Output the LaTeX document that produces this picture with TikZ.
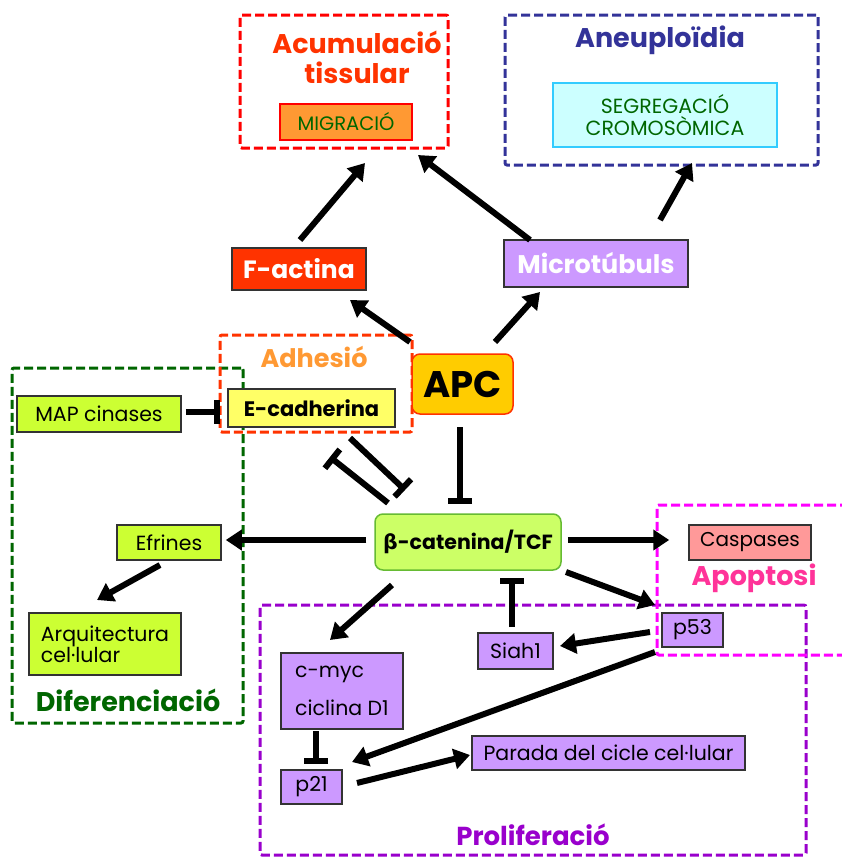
\documentclass[tikz,border=0pt]{standalone}
\usepackage{fontspec}
\setmainfont{Poppins}
\newfontfamily\greekfont{DejaVu Sans}
\usetikzlibrary{arrows.meta}
\definecolor{cRedO}{HTML}{FF3300}
\definecolor{cRed}{HTML}{FF0000}
\definecolor{cNavy}{HTML}{333399}
\definecolor{cOrange}{HTML}{FF9933}
\definecolor{cDkGreen}{HTML}{006600}
\definecolor{cCyanF}{HTML}{CCFFFF}
\definecolor{cCyanB}{HTML}{33CCFF}
\definecolor{cLav}{HTML}{CC99FF}
\definecolor{cGold}{HTML}{FFCC00}
\definecolor{cYel}{HTML}{FFFF66}
\definecolor{cLime}{HTML}{CCFF33}
\definecolor{cLime2}{HTML}{CCFF66}
\definecolor{cLimeB}{HTML}{66BB33}
\definecolor{cMag}{HTML}{FF00FF}
\definecolor{cPink}{HTML}{FF3399}
\definecolor{cSalmon}{HTML}{FF9999}
\definecolor{cPurp}{HTML}{9900CC}
\tikzset{
  grp/.style={draw=#1, line width=3pt, dash pattern=on 9pt off 4pt, inner sep=0pt, rounded corners=2pt},
  box/.style={draw=black!80, line width=1.5pt, fill=#1, inner sep=0pt, font=\fontsize{20.5}{24}\selectfont, align=center},
  title/.style={text=#1, font=\bfseries\fontsize{27}{31}\selectfont, align=center},
  act/.style={line width=6pt, -{Triangle[length=16pt,width=20pt]}},
  inh/.style={line width=6pt, -{Bar[width=24pt]}},
  inhs/.style={line width=6pt, {Bar[width=24pt]}-},
}
\begin{document}
\begin{tikzpicture}[x=1pt,y=-1pt]
\useasboundingbox (0,0) rectangle (842,857);
\fill[white] (0,0) rectangle (842,857);
% group boxes
\node[grp=cRed, minimum width=208pt, minimum height=133pt] (acum) at (344,81.5) {};
\node[grp=cNavy, minimum width=313pt, minimum height=150pt] (aneu) at (661.5,90) {};
\node[grp=cDkGreen, minimum width=231pt, minimum height=355pt] (dif) at (127.5,545.5) {};
\node[grp=cPurp, minimum width=546pt, minimum height=250pt] (prolif) at (533,730) {};
\node[grp=cMag, minimum width=220pt, minimum height=150pt] (apop) at (767,580) {};
\node[grp=cRedO, minimum width=192pt, minimum height=97pt] (adh) at (316,383.5) {};
% titles
\node[title=cRedO] (tAcum) at (357,42) {Acumulació};
\node[title=cRedO] (tAcum2) at (357,73) {tissular};
\node[title=cNavy] (tAneu) at (660,40) {Aneuploïdia};
\node[title=cOrange, font=\bfseries\fontsize{25.5}{30}\selectfont] (tAdh) at (314,357) {Adhesió};
\node[title=cDkGreen] (tDif) at (128,700) {Diferenciació};
\node[title=cPink] (tApop) at (754,578) {Apoptosi};
\node[title=cPurp, font=\bfseries\fontsize{26}{30}\selectfont] (tProl) at (533,835) {Proliferació};
% nodes
\node[box=cOrange, draw=cRed, text=cDkGreen, font=\fontsize{19.5}{23}\selectfont, minimum width=132pt, minimum height=36pt] (migr) at (346,122) {MIGRACIÓ};
\node[box=cCyanF, draw=cCyanB, text=cDkGreen, minimum width=224pt, minimum height=64pt] (segr) at (665,115) {SEGREGACIÓ\\[-2pt]CROMOSÒMICA};
\node[box=cRedO, text=white, font=\bfseries\fontsize{25}{29}\selectfont, minimum width=134pt, minimum height=42pt] (factina) at (299,269) {F-actina};
\node[box=cLav, text=white, font=\bfseries\fontsize{25.5}{29}\selectfont, minimum width=184pt, minimum height=47pt] (micro) at (596,263.5) {Microtúbuls};
\node[box=cYel, font=\bfseries\fontsize{21}{24}\selectfont, minimum width=167pt, minimum height=38pt] (ecad) at (311.5,408) {E-cadherina};
\node[box=cGold, draw=cRedO, rounded corners=8pt, font=\bfseries\fontsize{37}{40}\selectfont, minimum width=101pt, minimum height=60pt] (apc) at (462.5,384) {APC};
\node[box=cLime, minimum width=164pt, minimum height=36pt] (map) at (99,414) {MAP cinases};
\node[box=cLime, minimum width=104pt, minimum height=35pt] (efr) at (169,542.5) {Efrines};
\node[box=cLime, minimum width=152pt, minimum height=62pt, align=left] (arq) at (105,644) {Arquitectura\\[-3pt]cel·lular};
\node[box=cLime2, draw=cLimeB, rounded corners=8pt, font=\bfseries\fontsize{20.5}{24}\selectfont, minimum width=186pt, minimum height=56pt] (bcat) at (468,542) {{\greekfont β}-catenina/TCF};
\node[box=cSalmon, font=\fontsize{20}{24}\selectfont, minimum width=122pt, minimum height=35pt] (casp) at (750,542.5) {Caspases};
\node[box=cLav, minimum width=61pt, minimum height=34pt] (p53) at (692.5,630) {p53};
\node[box=cLav, minimum width=75pt, minimum height=36pt] (siah) at (515.5,651) {Siah1};
\node[box=cLav, minimum width=122pt, minimum height=76pt, align=left] (cmyc) at (342,691) {c-myc\\[14pt]ciclina D1};
\node[box=cLav, minimum width=61pt, minimum height=34pt] (p21) at (311.5,787) {p21};
\node[box=cLav, minimum width=273pt, minimum height=34pt] (parada) at (608.5,753) {Parada del cicle cel·lular};
% connectors
\draw[act] ([shift={(1,-29)}]factina.center) -- ([shift={(21,81.5)}]acum.center);
\draw[act] ([shift={(-66,-23.5)}]micro.center) -- ([shift={(74,73.5)}]acum.center);
\draw[act] ([shift={(64,-43.5)}]micro.center) -- ([shift={(30.5,73)}]aneu.center);
\draw[act] ([shift={(-52.5,-42)}]apc.center) -- ([shift={(51,31)}]factina.center);
\draw[act] ([shift={(32.5,-42)}]apc.center) -- ([shift={(-56,28.5)}]micro.center);
\draw[inh] ([shift={(4,-2)}]map.east) -- ([shift={(-7,-2)}]map.east -| ecad.west);
\draw[inhs] ([shift={(18.5,49)}]ecad.center) -- ([shift={(-80,-39)}]bcat.center);
\draw[inh] ([shift={(38.5,30)}]ecad.center) -- ([shift={(-63,-52)}]bcat.center);
\draw[inh] ([shift={(-2.5,43)}]apc.center) -- ([shift={(-8,-38)}]bcat.center);
\draw[act] ([shift={(-8,-2)}]bcat.west) -- ([shift={(4,-2)}]bcat.west -| efr.east);
\draw[act] ([shift={(6,-2)}]bcat.east) -- ([shift={(-19,-2)}]bcat.east -| casp.west);
\draw[act] ([shift={(98,30)}]bcat.center) -- ([shift={(-37.5,-25)}]p53.center);
\draw[act] ([shift={(-76,43)}]bcat.center) -- ([shift={(-12,-51)}]cmyc.center);
\draw[inh] ([shift={(-3.5,-24)}]siah.center) -- ([shift={(44,36)}]bcat.center);
\draw[act] ([shift={(-42.5,2)}]p53.center) -- ([shift={(44.5,-5)}]siah.center);
\draw[act] ([shift={(-37.5,22)}]p53.center) -- ([shift={(40.5,-25)}]p21.center);
\draw[inh] ([shift={(-26,40)}]cmyc.center) -- ([shift={(4.5,-23)}]p21.center);
\draw[act] ([shift={(45.5,-4)}]p21.center) -- ([shift={(-138.5,2)}]parada.center);
\draw[act] ([shift={(-9,22.5)}]efr.center) -- ([shift={(-8,-44)}]arq.center);
\end{tikzpicture}
\end{document}
